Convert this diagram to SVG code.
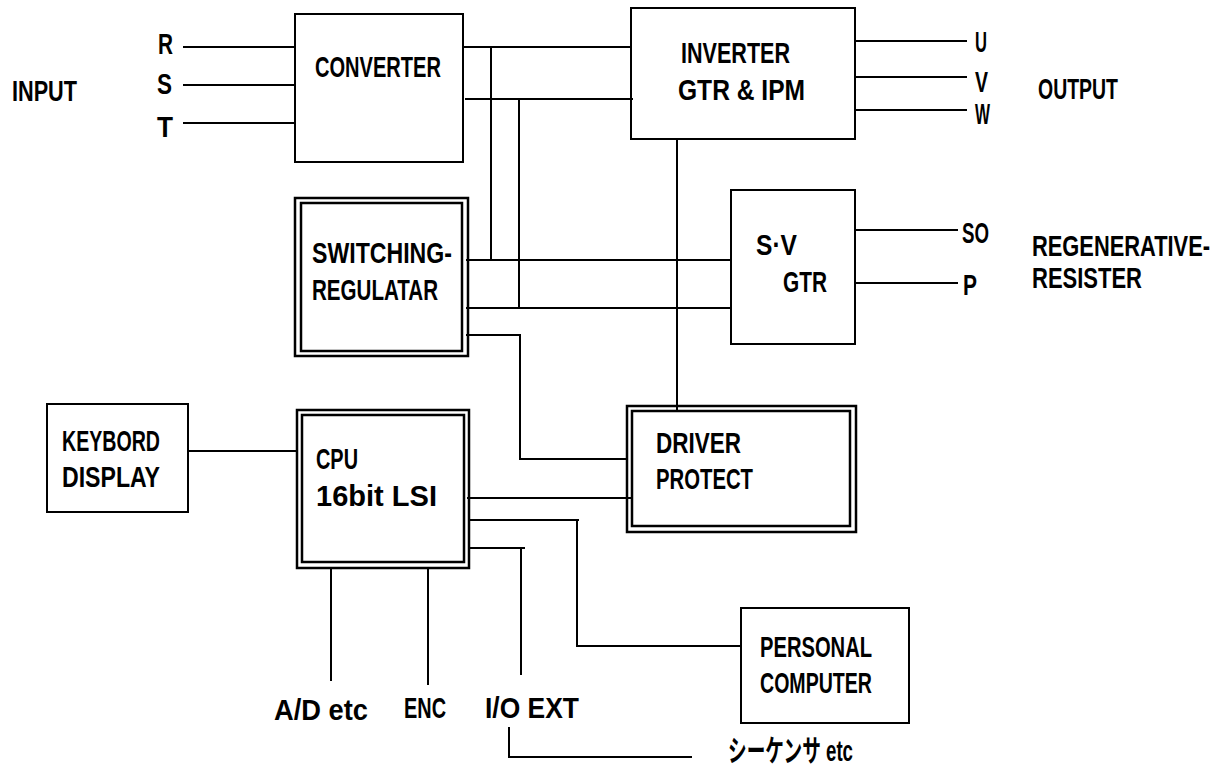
<svg xmlns="http://www.w3.org/2000/svg" width="1229" height="765" viewBox="0 0 1229 765">
<style>
.b{fill:none;stroke:#000;stroke-width:2}
.d{fill:none;stroke:#000;stroke-width:2.5}
.c{fill:none;stroke:#000;stroke-width:2}
text{font-family:"Liberation Sans","Noto Sans CJK JP",sans-serif;font-weight:bold;font-size:30px;fill:#000}
</style>
<rect width="1229" height="765" fill="#fff"/>
<g id="connectors">
<path class="c" d="M183,47H295M183,85H295M183,123H295"/>
<path class="c" d="M463,47H631M465,99H633M491,47V260M519,99V309"/>
<path class="c" d="M466,260H731M466,308H731M466,335H520V459H627"/>
<path class="c" d="M677,139V410"/>
<path class="c" d="M855,41H967M855,77H967M855,110H967"/>
<path class="c" d="M855,230H958M855,283H958"/>
<path class="c" d="M188,451H297"/>
<path class="c" d="M467,498H632"/>
<path class="c" d="M468,520H579M577,520V646H741"/>
<path class="c" d="M470,548H525M521,548V675"/>
<path class="c" d="M331,569V681M428,569V685"/>
<path class="c" d="M509,727V757H692"/>
</g>
<g id="input-labels">
<text x="12" y="101" textLength="65" lengthAdjust="spacingAndGlyphs">INPUT</text>
<text x="158" y="54" textLength="15" lengthAdjust="spacingAndGlyphs">R</text>
<text x="157" y="94" textLength="15" lengthAdjust="spacingAndGlyphs">S</text>
<text x="157" y="137" textLength="16" lengthAdjust="spacingAndGlyphs">T</text>
</g>
<g id="converter">
<rect class="b" x="295" y="14" width="168" height="148"/>
<text x="315" y="77" textLength="126" lengthAdjust="spacingAndGlyphs">CONVERTER</text>
</g>
<g id="inverter">
<rect class="b" x="631" y="8" width="224" height="131"/>
<text x="681" y="63" textLength="109" lengthAdjust="spacingAndGlyphs">INVERTER</text>
<text x="678" y="100" textLength="127" lengthAdjust="spacingAndGlyphs">GTR &amp; IPM</text>
</g>
<g id="output-labels">
<text x="975" y="52" textLength="12" lengthAdjust="spacingAndGlyphs">U</text>
<text x="975" y="92" textLength="13" lengthAdjust="spacingAndGlyphs">V</text>
<text x="975" y="124" textLength="15" lengthAdjust="spacingAndGlyphs">W</text>
<text x="1038" y="99" textLength="80" lengthAdjust="spacingAndGlyphs">OUTPUT</text>
</g>
<g id="switching-regulator">
<rect class="d" x="295" y="198" width="173" height="158"/>
<rect class="d" x="301" y="203" width="161" height="148"/>
<text x="312" y="263" textLength="140" lengthAdjust="spacingAndGlyphs">SWITCHING-</text>
<text x="312" y="300" textLength="126" lengthAdjust="spacingAndGlyphs">REGULATAR</text>
</g>
<g id="sv-gtr">
<rect class="b" x="731" y="190" width="124" height="154"/>
<text x="756" y="255" textLength="41" lengthAdjust="spacingAndGlyphs">S·V</text>
<text x="783" y="292" textLength="44" lengthAdjust="spacingAndGlyphs">GTR</text>
</g>
<g id="regen-labels">
<text x="962" y="243" textLength="27" lengthAdjust="spacingAndGlyphs">SO</text>
<text x="963" y="295" textLength="14" lengthAdjust="spacingAndGlyphs">P</text>
<text x="1032" y="256" textLength="178" lengthAdjust="spacingAndGlyphs">REGENERATIVE-</text>
<text x="1032" y="288" textLength="110" lengthAdjust="spacingAndGlyphs">RESISTER</text>
</g>
<g id="keyboard-display">
<rect class="b" x="47" y="404" width="141" height="108"/>
<text x="62" y="451" textLength="98" lengthAdjust="spacingAndGlyphs">KEYBORD</text>
<text x="62" y="487" textLength="98" lengthAdjust="spacingAndGlyphs">DISPLAY</text>
</g>
<g id="cpu">
<rect class="d" x="297" y="410" width="172" height="158"/>
<rect class="d" x="302" y="415" width="162" height="147"/>
<text x="316" y="469" textLength="42" lengthAdjust="spacingAndGlyphs">CPU</text>
<text x="316" y="506" textLength="121" lengthAdjust="spacingAndGlyphs">16bit LSI</text>
</g>
<g id="driver-protect">
<rect class="d" x="627" y="406" width="229" height="126"/>
<rect class="d" x="632" y="411" width="218" height="115"/>
<text x="656" y="453" textLength="85" lengthAdjust="spacingAndGlyphs">DRIVER</text>
<text x="656" y="489" textLength="97" lengthAdjust="spacingAndGlyphs">PROTECT</text>
</g>
<g id="personal-computer">
<rect class="b" x="741" y="608" width="168" height="115"/>
<text x="760" y="657" textLength="112" lengthAdjust="spacingAndGlyphs">PERSONAL</text>
<text x="760" y="693" textLength="112" lengthAdjust="spacingAndGlyphs">COMPUTER</text>
</g>
<g id="bottom-labels">
<text x="274" y="720" textLength="94" lengthAdjust="spacingAndGlyphs">A/D etc</text>
<text x="404" y="718" textLength="42" lengthAdjust="spacingAndGlyphs">ENC</text>
<text x="485" y="718" textLength="94" lengthAdjust="spacingAndGlyphs">I/O EXT</text>
<text x="728" y="761" textLength="125" lengthAdjust="spacingAndGlyphs" font-size="24">シーケンサ etc</text>
</g>
</svg>
